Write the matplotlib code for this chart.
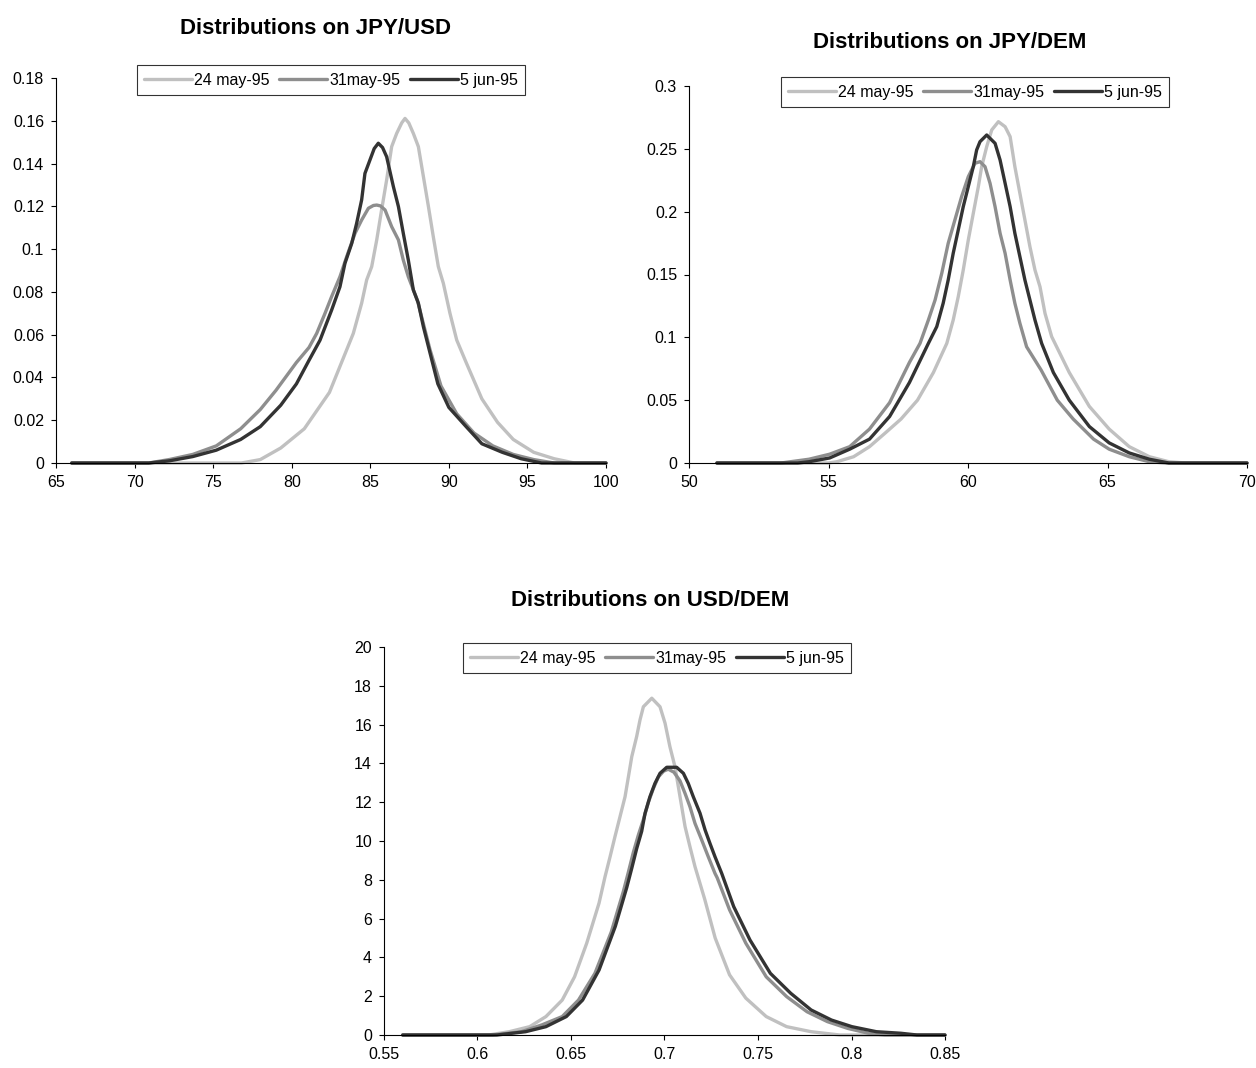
import numpy as np
import matplotlib
matplotlib.use('Agg')
import matplotlib.pyplot as plt

plt.rcParams['font.family'] = ['Liberation Sans Narrow', 'Liberation Sans', 'DejaVu Sans']

labels = ['24 may-95', '31may-95', '5 jun-95']
colors = ['#c0c0c0', '#8e8e8e', '#333333']

# JPY/USD
jpyusd_x_24 = [66, 76.8, 78.0, 79.3, 80.8, 82.4, 83.92, 84.45, 84.77, 85.09, 85.41, 85.72, 86.04, 86.36, 86.68, 87.0, 87.21, 87.45, 87.74, 88.06, 88.38, 88.7, 89.01, 89.33, 89.65, 90.07, 90.5, 91.1, 92.1, 93.1, 94.1, 95.4, 96.7, 98.0, 100]
jpyusd_y_24 = [0, 0, 0.0016, 0.007, 0.016, 0.033, 0.0606, 0.0747, 0.0856, 0.0918, 0.1043, 0.1183, 0.1323, 0.1479, 0.1541, 0.159, 0.1611, 0.159, 0.1541, 0.1479, 0.1339, 0.1199, 0.1058, 0.0918, 0.084, 0.07, 0.0575, 0.047, 0.030, 0.019, 0.011, 0.005, 0.002, 0, 0]
jpyusd_x_31 = [66, 70.9, 72.2, 73.7, 75.2, 76.75, 78.0, 79.0, 80.3, 81.1, 81.59, 82.12, 82.54, 83.07, 83.5, 84.03, 84.45, 84.88, 85.2, 85.41, 85.65, 85.94, 86.36, 86.79, 87.1, 87.42, 88.0, 88.8, 89.5, 90.5, 91.6, 92.8, 94.1, 95.4, 96.7, 100]
jpyusd_y_31 = [0, 0, 0.0016, 0.004, 0.008, 0.016, 0.025, 0.034, 0.047, 0.054, 0.0606, 0.07, 0.0778, 0.0871, 0.0965, 0.1074, 0.1136, 0.1191, 0.1204, 0.1206, 0.1202, 0.1183, 0.1105, 0.1043, 0.0949, 0.0871, 0.076, 0.053, 0.036, 0.023, 0.014, 0.008, 0.004, 0.0016, 0, 0]
jpyusd_x_5 = [66, 70.9, 72.2, 73.7, 75.2, 76.75, 78.0, 79.3, 80.3, 81.1, 81.8, 82.54, 83.07, 83.39, 83.82, 84.13, 84.45, 84.66, 84.98, 85.25, 85.51, 85.78, 86.04, 86.47, 86.79, 87.1, 87.42, 87.74, 88.06, 88.38, 88.7, 89.3, 90.0, 91.1, 92.1, 93.4, 94.6, 95.9, 100]
jpyusd_y_5 = [0, 0, 0.001, 0.003, 0.006, 0.011, 0.017, 0.027, 0.037, 0.048, 0.0574, 0.0715, 0.0824, 0.0934, 0.1027, 0.112, 0.123, 0.1354, 0.1417, 0.147, 0.1495, 0.1475, 0.1432, 0.1292, 0.1199, 0.1074, 0.0949, 0.0809, 0.0747, 0.0637, 0.0544, 0.037, 0.026, 0.017, 0.009, 0.005, 0.002, 0, 0]

# JPY/DEM
jpydem_x_24 = [51, 55.0, 55.3, 55.9, 56.47, 57.04, 57.6, 58.19, 58.76, 59.24, 59.47, 59.65, 59.83, 60.01, 60.19, 60.37, 60.49, 60.67, 60.85, 61.09, 61.33, 61.51, 61.68, 61.86, 62.04, 62.22, 62.4, 62.58, 62.76, 63.0, 63.63, 64.35, 65.06, 65.78, 66.5, 67.2, 67.8, 70]
jpydem_y_24 = [0, 0, 0.001, 0.005, 0.013, 0.024, 0.035, 0.050, 0.072, 0.0952, 0.1138, 0.1323, 0.1536, 0.1774, 0.1987, 0.2199, 0.2358, 0.2517, 0.265, 0.2716, 0.2676, 0.2597, 0.2358, 0.2146, 0.1934, 0.1721, 0.1536, 0.1403, 0.1191, 0.1005, 0.072, 0.045, 0.027, 0.013, 0.005, 0.001, 0, 0]
jpydem_x_31 = [51, 53.3, 54.3, 55.04, 55.76, 56.47, 57.19, 57.9, 58.28, 58.58, 58.82, 59.06, 59.29, 59.53, 59.77, 60.01, 60.25, 60.43, 60.61, 60.79, 60.97, 61.15, 61.33, 61.51, 61.68, 61.86, 62.1, 62.62, 63.2, 63.77, 64.5, 65.06, 65.78, 66.5, 67.1, 70]
jpydem_y_31 = [0, 0, 0.003, 0.007, 0.013, 0.027, 0.048, 0.080, 0.0952, 0.1138, 0.1297, 0.151, 0.1748, 0.1934, 0.2119, 0.2278, 0.2385, 0.2398, 0.2358, 0.2226, 0.204, 0.1828, 0.1669, 0.1456, 0.1271, 0.1112, 0.0925, 0.074, 0.050, 0.035, 0.019, 0.011, 0.005, 0.001, 0, 0]
jpydem_x_5 = [51, 53.9, 54.3, 55.04, 55.76, 56.47, 57.19, 57.9, 58.58, 58.88, 59.11, 59.29, 59.47, 59.65, 59.83, 60.01, 60.19, 60.31, 60.43, 60.67, 60.97, 61.15, 61.33, 61.51, 61.68, 61.86, 62.04, 62.22, 62.4, 62.64, 63.06, 63.63, 64.35, 65.06, 65.78, 66.5, 67.2, 70]
jpydem_y_5 = [0, 0, 0.001, 0.004, 0.011, 0.019, 0.037, 0.064, 0.0952, 0.1085, 0.1271, 0.1456, 0.1669, 0.1854, 0.204, 0.2199, 0.2358, 0.2491, 0.2557, 0.261, 0.2544, 0.2411, 0.2226, 0.204, 0.1828, 0.1642, 0.1456, 0.1297, 0.1138, 0.0952, 0.072, 0.050, 0.029, 0.016, 0.008, 0.003, 0, 0]

# USD/DEM
usddem_x_24 = [0.56, 0.606, 0.617, 0.6279, 0.6366, 0.6453, 0.6519, 0.6584, 0.665, 0.6682, 0.6709, 0.6735, 0.6762, 0.6789, 0.6807, 0.6825, 0.6851, 0.6869, 0.6887, 0.6932, 0.6976, 0.7003, 0.7029, 0.7056, 0.7074, 0.7092, 0.711, 0.7136, 0.7163, 0.7215, 0.7271, 0.7348, 0.7435, 0.7544, 0.7653, 0.7784, 0.7937, 0.85]
usddem_y_24 = [0, 0, 0.17, 0.43, 0.95, 1.8, 3.0, 4.73, 6.8, 8.16, 9.19, 10.22, 11.25, 12.28, 13.31, 14.35, 15.38, 16.24, 16.92, 17.36, 16.92, 16.07, 14.86, 13.83, 12.8, 11.77, 10.74, 9.71, 8.68, 7.0, 5.0, 3.1, 1.9, 0.95, 0.43, 0.17, 0, 0]
usddem_x_31 = [0.56, 0.6082, 0.6235, 0.6344, 0.6453, 0.654, 0.6628, 0.6715, 0.678, 0.6807, 0.6833, 0.686, 0.6887, 0.6914, 0.694, 0.6967, 0.6995, 0.702, 0.7050, 0.7083, 0.711, 0.7136, 0.7163, 0.7199, 0.7234, 0.727, 0.7282, 0.7348, 0.7435, 0.7544, 0.7653, 0.7762, 0.7871, 0.798, 0.809, 0.8177, 0.85]
usddem_y_31 = [0, 0, 0.17, 0.52, 0.95, 1.8, 3.18, 5.3, 7.4, 8.4, 9.4, 10.3, 11.1, 12.0, 12.7, 13.3, 13.6, 13.7, 13.55, 13.1, 12.45, 11.77, 10.91, 10.05, 9.19, 8.33, 8.1, 6.45, 4.73, 3.0, 1.98, 1.2, 0.69, 0.34, 0.09, 0, 0]
usddem_x_5 = [0.56, 0.6104, 0.6257, 0.6366, 0.6475, 0.6562, 0.665, 0.6737, 0.6798, 0.6825, 0.6851, 0.6878, 0.6896, 0.6922, 0.6949, 0.6976, 0.7012, 0.7065, 0.7101, 0.7127, 0.7154, 0.719, 0.7217, 0.7243, 0.727, 0.7306, 0.737, 0.7457, 0.7566, 0.7675, 0.7784, 0.7893, 0.8002, 0.8133, 0.8264, 0.835, 0.85]
usddem_y_5 = [0, 0, 0.17, 0.43, 0.95, 1.8, 3.35, 5.6, 7.6, 8.6, 9.6, 10.5, 11.43, 12.28, 12.97, 13.49, 13.8, 13.8, 13.49, 12.97, 12.28, 11.43, 10.57, 9.88, 9.19, 8.33, 6.62, 4.9, 3.18, 2.15, 1.29, 0.77, 0.43, 0.17, 0.09, 0, 0]

panels = [
    dict(title='Distributions on JPY/USD',
         series=[(jpyusd_x_24, jpyusd_y_24), (jpyusd_x_31, jpyusd_y_31), (jpyusd_x_5, jpyusd_y_5)],
         xlim=(65, 100), xticks=[65, 70, 75, 80, 85, 90, 95, 100],
         xlabels=['65', '70', '75', '80', '85', '90', '95', '100'],
         ylim=(0, 0.18), yticks=[0, 0.02, 0.04, 0.06, 0.08, 0.1, 0.12, 0.14, 0.16, 0.18],
         ylabels=['0', '0.02', '0.04', '0.06', '0.08', '0.1', '0.12', '0.14', '0.16', '0.18'],
         rect=[56, 78, 606, 463], title_pos=(316, 28), leg_pos=(331, 80)),
    dict(title='Distributions on JPY/DEM',
         series=[(jpydem_x_24, jpydem_y_24), (jpydem_x_31, jpydem_y_31), (jpydem_x_5, jpydem_y_5)],
         xlim=(50, 70), xticks=[50, 55, 60, 65, 70],
         xlabels=['50', '55', '60', '65', '70'],
         ylim=(0, 0.3), yticks=[0, 0.05, 0.1, 0.15, 0.2, 0.25, 0.3],
         ylabels=['0', '0.05', '0.1', '0.15', '0.2', '0.25', '0.3'],
         rect=[689, 86, 1247, 463], title_pos=(950, 42), leg_pos=(975, 92)),
    dict(title='Distributions on USD/DEM',
         series=[(usddem_x_24, usddem_y_24), (usddem_x_31, usddem_y_31), (usddem_x_5, usddem_y_5)],
         xlim=(0.55, 0.85), xticks=[0.55, 0.6, 0.65, 0.7, 0.75, 0.8, 0.85],
         xlabels=['0.55', '0.6', '0.65', '0.7', '0.75', '0.8', '0.85'],
         ylim=(0, 20), yticks=list(range(0, 21, 2)),
         ylabels=[str(v) for v in range(0, 21, 2)],
         rect=[384, 647, 945, 1035], title_pos=(650, 600), leg_pos=(657, 658)),
]

W, H = 1256, 1068
fig = plt.figure(figsize=(W / 100, H / 100), dpi=100)

for p in panels:
    x0, y0, x1, y1 = p['rect']
    ax = fig.add_axes([x0 / W, 1 - y1 / H, (x1 - x0) / W, (y1 - y0) / H])
    for (xs, ys), lab, c in zip(p['series'], labels, colors):
        ax.plot(xs, ys, color=c, lw=2.4, label=lab, clip_on=False,
                solid_joinstyle='round', solid_capstyle='round')
    ax.set_xlim(*p['xlim'])
    ax.set_ylim(*p['ylim'])
    ax.set_xticks(p['xticks'])
    ax.set_xticklabels(p['xlabels'])
    ax.set_yticks(p['yticks'])
    ax.set_yticklabels(p['ylabels'])
    ax.spines['top'].set_visible(False)
    ax.spines['right'].set_visible(False)
    ax.tick_params(direction='out', length=3.6, width=0.8, labelsize=11.5, pad=5)
    fig.text(p['title_pos'][0] / W, 1 - p['title_pos'][1] / H, p['title'],
             ha='center', va='center', fontsize=16, fontweight='bold')
    leg = ax.legend(loc='center', ncol=3, bbox_to_anchor=(p['leg_pos'][0] / W, 1 - p['leg_pos'][1] / H),
                    bbox_transform=fig.transFigure, frameon=True, fancybox=False,
                    fontsize=11.5, handlelength=3.0, handletextpad=0.15, columnspacing=0.6,
                    borderpad=0.45, edgecolor='black')
    leg.get_frame().set_linewidth(0.8)

fig.savefig('out.png', dpi=100)
